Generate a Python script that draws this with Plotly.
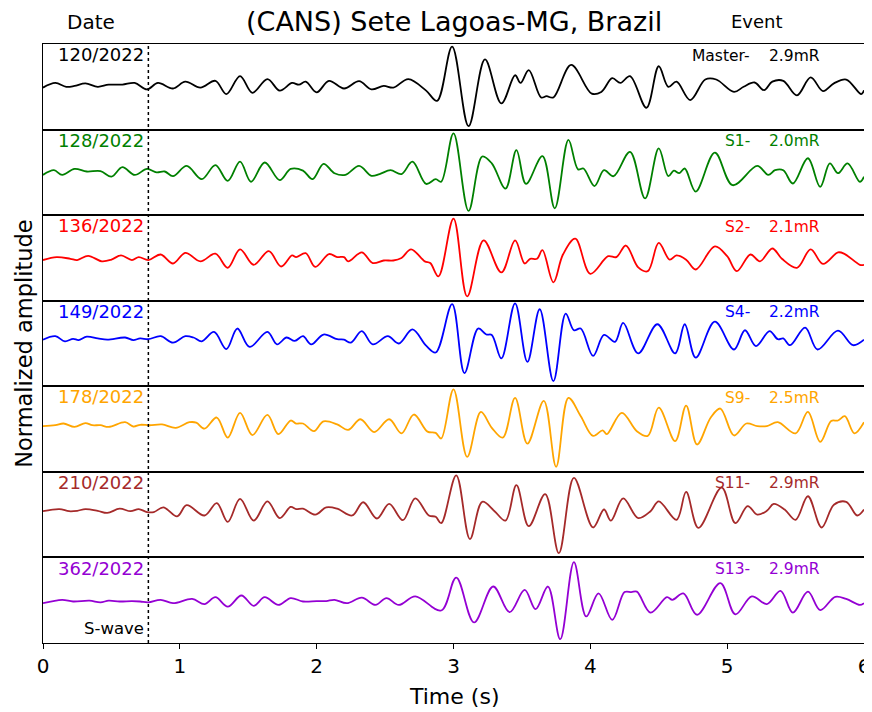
import plotly.graph_objects as go
from plotly.subplots import make_subplots

# ---- data ----
t_master = [0.00,0.09,0.17,0.23,0.31,0.40,0.48,0.58,0.67,0.76,0.84,0.95,1.04,1.15,1.26,1.34,1.44,1.53,1.64,1.73,1.82,1.87,1.92,2.00,2.09,2.20,2.31,2.40,2.49,2.56,2.67,2.80,2.88,2.99,3.11,3.23,3.35,3.45,3.49,3.55,3.64,3.68,3.73,3.86,4.01,4.08,4.16,4.22,4.29,4.41,4.50,4.57,4.63,4.73,4.84,4.92,5.05,5.12,5.20,5.27,5.33,5.41,5.51,5.61,5.70,5.78,5.87,5.98,6.00]
a_master = [-0.02,0.09,0.00,0.02,0.08,0.00,0.05,0.05,0.09,-0.06,0.09,-0.04,0.12,-0.02,0.14,-0.17,0.25,-0.14,0.18,-0.09,0.09,0.05,0.12,-0.13,0.14,-0.04,0.13,-0.06,0.02,-0.02,0.18,-0.09,-0.33,0.94,-0.92,0.64,-0.39,0.27,0.09,0.39,-0.25,-0.22,-0.25,0.51,-0.16,-0.12,0.20,0.09,0.25,-0.49,0.48,0.00,0.12,-0.31,0.17,0.17,-0.12,0.00,0.10,-0.08,0.12,0.14,-0.20,0.22,-0.10,0.08,0.17,-0.17,-0.08]

t_s1 = [0.00,0.08,0.14,0.23,0.32,0.42,0.50,0.58,0.67,0.76,0.83,0.89,0.95,1.05,1.16,1.26,1.35,1.44,1.52,1.62,1.73,1.81,1.90,1.97,2.05,2.13,2.21,2.31,2.40,2.46,2.54,2.62,2.70,2.80,2.87,2.91,3.00,3.11,3.21,3.28,3.38,3.46,3.53,3.65,3.74,3.84,3.91,3.95,4.03,4.10,4.17,4.29,4.40,4.50,4.57,4.61,4.65,4.69,4.77,4.91,5.04,5.22,5.30,5.35,5.41,5.48,5.59,5.68,5.75,5.81,5.88,5.97,6.00]
a_s1 = [-0.06,0.05,-0.06,0.08,0.02,0.03,-0.10,0.12,-0.06,0.08,0.00,0.02,-0.09,0.15,-0.16,0.17,-0.20,0.25,-0.22,0.23,-0.18,0.08,0.04,-0.16,0.20,-0.02,-0.06,0.15,-0.08,-0.04,0.05,-0.04,0.25,-0.27,-0.16,-0.22,0.91,-0.90,0.37,0.21,-0.38,0.52,-0.27,0.38,-0.84,0.76,0.07,0.09,-0.32,0.05,-0.09,0.48,-0.61,0.56,-0.09,0.04,-0.02,0.09,-0.45,0.46,-0.30,0.15,-0.06,0.05,0.05,-0.26,0.33,-0.34,0.21,-0.02,0.21,-0.22,-0.10]

t_s2 = [0.00,0.10,0.20,0.25,0.33,0.43,0.50,0.57,0.65,0.70,0.77,0.86,0.95,1.04,1.15,1.26,1.35,1.44,1.54,1.65,1.74,1.82,1.85,1.92,1.99,2.09,2.15,2.20,2.23,2.33,2.41,2.49,2.56,2.62,2.69,2.79,2.83,2.89,3.00,3.10,3.22,3.35,3.45,3.52,3.56,3.61,3.65,3.73,3.80,3.89,4.00,4.13,4.19,4.26,4.35,4.42,4.50,4.58,4.63,4.70,4.77,4.91,5.00,5.07,5.17,5.24,5.33,5.40,5.51,5.61,5.70,5.81,5.86,5.97,6.00]
a_s2 = [-0.05,0.02,-0.02,-0.05,0.05,-0.08,-0.04,0.06,-0.05,0.02,-0.05,0.08,-0.13,0.12,-0.08,0.10,-0.23,0.20,-0.16,0.16,-0.20,0.06,0.02,0.11,-0.21,0.09,0.02,0.02,-0.08,0.13,-0.12,-0.06,-0.06,0.00,0.20,-0.08,-0.12,-0.43,0.92,-0.90,0.41,-0.34,0.41,-0.13,-0.02,-0.02,0.18,-0.57,0.08,0.45,-0.37,0.04,0.02,0.29,-0.22,-0.31,0.35,-0.04,0.06,-0.04,-0.27,0.27,0.04,-0.31,0.08,-0.08,0.22,-0.02,-0.23,0.20,-0.14,0.13,0.09,-0.16,-0.16]

t_s4 = [0.00,0.09,0.16,0.22,0.26,0.32,0.40,0.47,0.60,0.66,0.71,0.77,0.86,0.95,1.04,1.10,1.16,1.25,1.34,1.42,1.51,1.64,1.71,1.78,1.84,1.90,1.96,2.05,2.15,2.20,2.25,2.33,2.41,2.52,2.60,2.70,2.80,2.87,2.99,3.08,3.18,3.24,3.28,3.35,3.45,3.54,3.63,3.73,3.82,3.88,3.93,4.02,4.10,4.18,4.24,4.35,4.49,4.62,4.69,4.77,4.91,5.05,5.13,5.21,5.31,5.37,5.41,5.46,5.57,5.66,5.81,5.92,6.00]
a_s4 = [0.09,0.17,0.05,0.11,0.08,0.16,0.12,0.09,0.14,0.08,0.12,0.10,0.17,0.02,0.17,0.14,0.05,0.27,-0.13,0.35,-0.08,0.27,-0.02,0.14,0.06,0.17,-0.02,0.21,0.10,0.09,0.02,0.29,-0.02,0.17,0.00,0.33,-0.05,-0.21,0.92,-0.69,0.35,0.21,0.20,-0.35,0.94,-0.43,0.80,-0.88,0.70,0.31,0.35,-0.29,0.20,0.04,0.48,-0.23,0.45,-0.23,0.45,-0.33,0.51,-0.14,0.31,-0.06,0.29,0.10,0.12,-0.04,0.37,-0.14,0.30,-0.04,0.09]

t_s9 = [0.00,0.09,0.15,0.23,0.31,0.36,0.42,0.48,0.60,0.66,0.71,0.78,0.87,0.97,1.07,1.12,1.18,1.27,1.35,1.44,1.53,1.64,1.72,1.81,1.85,1.90,1.98,2.05,2.15,2.23,2.32,2.42,2.53,2.62,2.71,2.81,2.87,2.91,3.00,3.10,3.20,3.28,3.36,3.45,3.54,3.66,3.75,3.84,3.93,4.02,4.09,4.12,4.23,4.34,4.42,4.50,4.62,4.70,4.78,4.88,4.95,5.05,5.14,5.22,5.29,5.37,5.50,5.59,5.68,5.76,5.81,5.86,5.93,6.00]
a_s9 = [0.07,0.09,0.13,0.05,0.14,0.09,0.09,0.05,0.16,0.06,0.10,0.09,0.11,0.03,0.16,0.15,0.01,0.27,-0.20,0.38,-0.14,0.33,-0.12,0.20,0.13,0.13,-0.05,0.18,0.11,-0.02,0.23,-0.07,0.23,-0.10,0.34,-0.06,-0.09,-0.22,0.93,-0.65,0.40,0.03,-0.20,0.73,-0.34,0.66,-0.88,0.73,0.30,-0.16,-0.03,-0.12,0.38,-0.05,-0.16,0.50,-0.28,0.55,-0.36,0.27,0.48,-0.15,0.13,0.07,0.07,0.16,-0.10,0.40,-0.30,0.19,0.20,0.30,-0.10,0.16]

t_s11 = [0.00,0.12,0.19,0.25,0.31,0.40,0.47,0.56,0.64,0.70,0.76,0.81,0.88,0.98,1.05,1.18,1.27,1.35,1.44,1.54,1.64,1.73,1.81,1.85,1.90,1.99,2.07,2.15,2.26,2.34,2.44,2.53,2.63,2.72,2.82,2.87,2.91,3.02,3.12,3.21,3.30,3.38,3.46,3.55,3.67,3.77,3.88,4.02,4.10,4.15,4.24,4.35,4.44,4.50,4.63,4.70,4.79,4.96,5.06,5.15,5.22,5.29,5.34,5.42,5.50,5.59,5.69,5.78,5.87,5.95,6.00]
a_s11 = [0.08,0.13,0.08,0.09,0.13,0.09,0.04,0.14,0.08,0.13,0.06,0.06,0.17,-0.04,0.22,-0.02,0.27,-0.17,0.37,-0.14,0.31,-0.08,0.18,0.13,0.14,0.00,0.17,0.14,-0.02,0.29,-0.09,0.25,-0.13,0.38,-0.02,-0.05,-0.20,0.92,-0.57,0.30,0.08,-0.14,0.69,-0.27,0.48,-0.90,0.86,-0.30,0.12,-0.14,0.38,-0.08,0.08,0.31,-0.12,0.53,-0.31,0.63,-0.20,0.20,0.00,0.09,0.25,0.12,-0.12,0.43,-0.30,0.23,0.30,-0.02,0.12]

t_s13 = [0.00,0.14,0.22,0.34,0.42,0.48,0.56,0.65,0.71,0.77,0.86,0.95,1.09,1.18,1.26,1.35,1.45,1.54,1.62,1.72,1.81,1.90,2.00,2.07,2.13,2.22,2.33,2.43,2.51,2.60,2.72,2.91,3.02,3.15,3.29,3.41,3.52,3.60,3.69,3.78,3.88,3.97,4.06,4.16,4.25,4.30,4.34,4.44,4.56,4.60,4.68,4.78,4.95,5.06,5.18,5.29,5.39,5.48,5.59,5.68,5.79,5.87,5.97,6.00]
a_s13 = [-0.07,0.01,-0.03,-0.01,-0.05,-0.01,-0.03,-0.02,-0.03,-0.05,0.01,-0.07,0.03,-0.09,0.07,-0.15,0.11,-0.13,0.07,-0.11,0.05,-0.03,-0.02,-0.02,0.01,-0.07,0.06,-0.11,0.05,-0.11,0.09,-0.24,0.53,-0.52,0.32,-0.28,0.24,-0.21,0.32,-0.91,0.89,-0.38,0.16,-0.46,0.19,0.19,0.20,-0.29,0.07,0.01,0.16,-0.34,0.40,-0.33,0.09,-0.09,0.22,-0.29,0.20,-0.23,0.08,0.03,-0.11,-0.07]

dates = ["120/2022", "128/2022", "136/2022", "149/2022", "178/2022", "210/2022", "362/2022"]
events = ["Master-", "S1-", "S2-", "S4-", "S9-", "S11-", "S13-"]
mags = ["2.9mR", "2.0mR", "2.1mR", "2.2mR", "2.5mR", "2.9mR", "2.9mR"]
colors = ["black", "green", "red", "blue", "orange", "brown", "darkviolet"]
s_wave_time = 0.77
x_ticks = [0, 1, 2, 3, 4, 5, 6]

times = [t_master, t_s1, t_s2, t_s4, t_s9, t_s11, t_s13]
amps = [a_master, a_s1, a_s2, a_s4, a_s9, a_s11, a_s13]

FONT = "DejaVu Sans"
n = len(dates)
fig = make_subplots(rows=n, cols=1, shared_xaxes=True, vertical_spacing=0)

for i in range(n):
    fig.add_trace(go.Scatter(x=times[i], y=amps[i], mode="lines",
                             line=dict(color=colors[i], width=1.8, shape="spline", smoothing=1.0),
                             showlegend=False, hoverinfo="skip"), row=i + 1, col=1)
    fig.update_yaxes(range=[-1, 1], showline=True, mirror=True, linecolor="black", linewidth=1.2,
                     showticklabels=False, ticks="", showgrid=False, zeroline=False,
                     automargin=False, row=i + 1, col=1)
    last = (i == n - 1)
    fig.update_xaxes(range=[0, 6], showline=True, mirror=True, linecolor="black", linewidth=1.2,
                     showgrid=False, zeroline=False, automargin=False,
                     ticks="outside" if last else "", ticklen=5, tickwidth=1.2, tickcolor="black",
                     tickvals=x_ticks, showticklabels=last,
                     tickfont=dict(family=FONT, size=20, color="black"), row=i + 1, col=1)
    suffix = "" if i == 0 else str(i + 1)
    xd, yd = "x" + suffix + " domain", "y" + suffix + " domain"
    fig.add_annotation(xref=xd, yref=yd, x=0.1255, y=0.875, xanchor="right", yanchor="middle",
                       text=dates[i], showarrow=False, font=dict(family=FONT, size=18, color=colors[i]))
    fig.add_annotation(xref=xd, yref=yd, x=0.863, y=0.865, xanchor="right", yanchor="middle",
                       text=events[i], showarrow=False, font=dict(family=FONT, size=15.5, color=colors[i]))
    fig.add_annotation(xref=xd, yref=yd, x=0.882, y=0.865, xanchor="left", yanchor="middle",
                       text=mags[i], showarrow=False, font=dict(family=FONT, size=15.5, color=colors[i]))

# S-wave marker
fig.add_shape(type="line", xref="x7", yref="paper", x0=s_wave_time, x1=s_wave_time, y0=0, y1=1,
              line=dict(color="black", width=1.5, dash="dot"))
fig.add_annotation(xref="x7 domain", yref="y7 domain", x=0.1255, y=0.17, xanchor="right", yanchor="middle",
                   text="S-wave", showarrow=False, font=dict(family=FONT, size=16.5, color="black"))

# titles
fig.add_annotation(xref="paper", yref="paper", x=0.5, y=1.037, xanchor="center", yanchor="middle",
                   text="(CANS) Sete Lagoas-MG, Brazil", showarrow=False,
                   font=dict(family=FONT, size=27, color="black"))
fig.add_annotation(xref="paper", yref="paper", x=0.058, y=1.037, xanchor="center", yanchor="middle",
                   text="Date", showarrow=False, font=dict(family=FONT, size=20, color="black"))
fig.add_annotation(xref="paper", yref="paper", x=0.870, y=1.037, xanchor="center", yanchor="middle",
                   text="Event", showarrow=False, font=dict(family=FONT, size=18, color="black"))
fig.add_annotation(xref="paper", yref="paper", x=0.5, y=-0.09, xanchor="center", yanchor="middle",
                   text="Time (s)", showarrow=False, font=dict(family=FONT, size=22, color="black"))
fig.add_annotation(xref="paper", yref="paper", x=-0.024, y=0.5, xanchor="center", yanchor="middle",
                   text="Normalized amplitude", textangle=-90, showarrow=False,
                   font=dict(family=FONT, size=22.5, color="black"))

# the page body adds an 8 px offset, so the figure is 8 px smaller and margins compensate
fig.update_layout(width=864, height=704, margin=dict(l=35, r=8, t=36, b=69, autoexpand=False),
                  paper_bgcolor="white", plot_bgcolor="white",
                  font=dict(family=FONT, color="black"))

fig.write_html("out.html")
